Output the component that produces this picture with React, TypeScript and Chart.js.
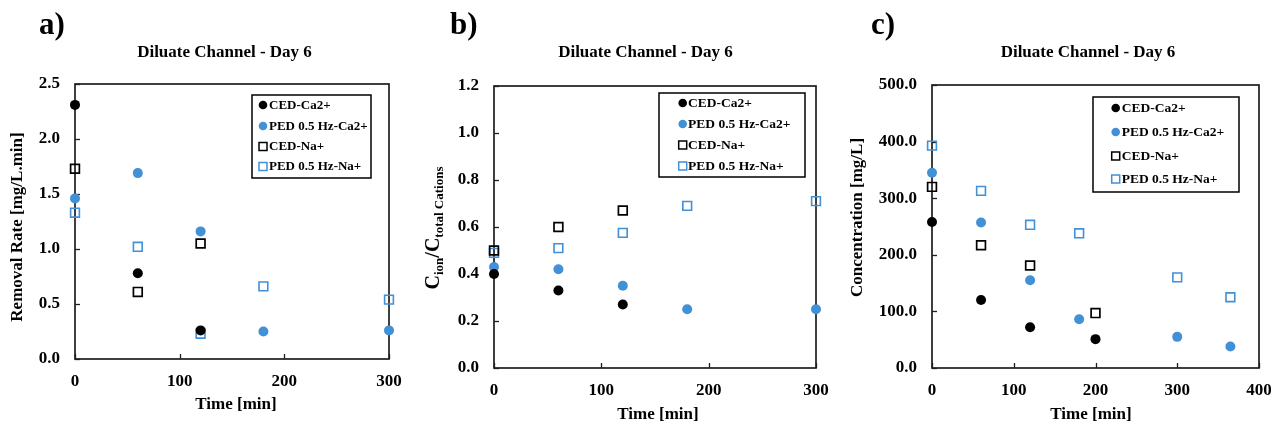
import React, { useEffect, useRef } from 'react';
import { Chart, registerables } from 'chart.js';

Chart.register(...registerables);

const FONT = '"Liberation Serif", "Times New Roman", serif';
const BLUE = '#4290d6';

// ---- Data: panel a) removal rate [mg/L.min]
const timeA = [0, 60, 120, 180, 300];
const removalCedCa = [2.31, 0.78, 0.26];
const removalPedCa = [1.46, 1.69, 1.16, 0.25, 0.26];
const removalCedNa = [1.73, 0.61, 1.05];
const removalPedNa = [1.33, 1.02, 0.23, 0.66, 0.54];

// ---- Data: panel b) C_ion / C_total cations
const timeB = [0, 60, 120, 180, 300];
const fracCedCa = [0.40, 0.33, 0.27];
const fracPedCa = [0.43, 0.42, 0.35, 0.25, 0.25];
const fracCedNa = [0.50, 0.60, 0.67];
const fracPedNa = [0.49, 0.51, 0.575, 0.69, 0.71];

// ---- Data: panel c) concentration [mg/L]
const timeCedC = [0, 60, 120, 200];
const timePedC = [0, 60, 120, 180, 300, 365];
const concCedCa = [258, 120, 72, 51];
const concPedCa = [345, 257, 155, 86, 55, 38];
const concCedNa = [320, 217, 181, 97];
const concPedNa = [393, 313, 253, 238, 160, 125];

const seriesLabels = ['CED-Ca2+', 'PED 0.5 Hz-Ca2+', 'CED-Na+', 'PED 0.5 Hz-Na+'];
const panelTitle = 'Diluate Channel - Day 6';
const xTitle = 'Time [min]';

const pts = (xs: number[], ys: number[]) => ys.map((y, i) => ({ x: xs[i], y }));

const seriesStyles = [
  { pointStyle: 'circle', pointRadius: 5, backgroundColor: '#000', borderColor: '#000', borderWidth: 0 },
  { pointStyle: 'circle', pointRadius: 5, backgroundColor: BLUE, borderColor: BLUE, borderWidth: 0 },
  { pointStyle: 'rect', pointRadius: 6.2, backgroundColor: 'rgba(255,255,255,0)', borderColor: '#000', borderWidth: 1.7 },
  { pointStyle: 'rect', pointRadius: 6.2, backgroundColor: 'rgba(255,255,255,0)', borderColor: BLUE, borderWidth: 1.6 },
];

type PanelCfg = {
  left: number;
  w: number;
  pad: { top: number; right: number };
  yWidth: number;
  xHeight: number;
  letter: string;
  letterX: number;
  titleX: number;
  yTitle: string | null;
  yTitleX: number;
  yTitleY: number;
  xTitleX: number;
  xTitleY: number;
  legend: { x: number; y: number; w: number; h: number; mx: number; tx: number; rows: number[]; font: number };
  xMax: number;
  yMax: number;
  yStep: number;
  series: { x: number; y: number }[][];
};

const panels: PanelCfg[] = [
  {
    left: 0, w: 420, pad: { top: 84, right: 31 }, yWidth: 75, xHeight: 66,
    letter: 'a)', letterX: 39, titleX: 224.5,
    yTitle: 'Removal Rate [mg/L.min]', yTitleX: 18, yTitleY: 227, xTitleX: 236, xTitleY: 405,
    legend: { x: 252, y: 95, w: 119, h: 83, mx: 263, tx: 269, rows: [105, 126, 146.5, 166.5], font: 13 },
    xMax: 300, yMax: 2.5, yStep: 0.5,
    series: [pts(timeA, removalCedCa), pts(timeA, removalPedCa), pts(timeA, removalCedNa), pts(timeA, removalPedNa)],
  },
  {
    left: 420, w: 430, pad: { top: 86, right: 34 }, yWidth: 74, xHeight: 57,
    letter: 'b)', letterX: 30, titleX: 225.5,
    yTitle: null, yTitleX: 19, yTitleY: 228, xTitleX: 238, xTitleY: 415,
    legend: { x: 239, y: 93, w: 146, h: 84, mx: 262.7, tx: 268, rows: [103, 124, 145, 166], font: 13.5 },
    xMax: 300, yMax: 1.2, yStep: 0.2,
    series: [pts(timeB, fracCedCa), pts(timeB, fracPedCa), pts(timeB, fracCedNa), pts(timeB, fracPedNa)],
  },
  {
    left: 840, w: 431, pad: { top: 85, right: 12 }, yWidth: 92, xHeight: 57,
    letter: 'c)', letterX: 31, titleX: 248,
    yTitle: 'Concentration [mg/L]', yTitleX: 18, yTitleY: 217.5, xTitleX: 251, xTitleY: 415,
    legend: { x: 253, y: 97, w: 146, h: 95, mx: 275.7, tx: 281.7, rows: [108, 132, 156, 179], font: 13.5 },
    xMax: 400, yMax: 500, yStep: 100,
    series: [pts(timeCedC, concCedCa), pts(timePedC, concPedCa), pts(timeCedC, concCedNa), pts(timePedC, concPedNa)],
  },
];

function drawRichYTitle(ctx: CanvasRenderingContext2D, x: number, cy: number) {
  const parts = [
    { t: 'C', size: 20, dy: 0 },
    { t: 'ion', size: 13, dy: 4 },
    { t: '/C', size: 20, dy: 0 },
    { t: 'total Cations', size: 13, dy: 4 },
  ];
  ctx.save();
  ctx.translate(x, cy);
  ctx.rotate(-Math.PI / 2);
  ctx.textBaseline = 'alphabetic';
  ctx.textAlign = 'left';
  ctx.fillStyle = '#000';
  let total = 0;
  const widths = parts.map((p) => {
    ctx.font = `bold ${p.size}px ${FONT}`;
    const w = ctx.measureText(p.t).width;
    total += w;
    return w;
  });
  let pos = -total / 2;
  parts.forEach((p, i) => {
    ctx.font = `bold ${p.size}px ${FONT}`;
    ctx.fillText(p.t, pos, p.dy);
    pos += widths[i];
  });
  ctx.restore();
}

function makeDecor(cfg: PanelCfg) {
  return {
    id: 'decor',
    beforeDatasetsDraw(chart: any) {
      const { ctx, chartArea } = chart;
      const { left, right, top, bottom } = chartArea;
      ctx.save();
      ctx.strokeStyle = '#1e1e1e';
      ctx.lineWidth = 1.7;
      ctx.strokeRect(left, top, right - left, bottom - top);
      ctx.lineWidth = 1.3;
      const ys = chart.scales.y;
      ys.ticks.forEach((t: any) => {
        const py = Math.round(ys.getPixelForValue(t.value)) + 0.5;
        ctx.beginPath();
        ctx.moveTo(left, py);
        ctx.lineTo(left + 5, py);
        ctx.stroke();
      });
      const xs = chart.scales.x;
      xs.ticks.forEach((t: any) => {
        const px = Math.round(xs.getPixelForValue(t.value)) + 0.5;
        ctx.beginPath();
        ctx.moveTo(px, bottom);
        ctx.lineTo(px, bottom - 5);
        ctx.stroke();
      });
      ctx.restore();
    },
    afterDraw(chart: any) {
      const { ctx } = chart;
      ctx.save();
      ctx.fillStyle = '#000';
      // panel letter
      ctx.font = `bold 31px ${FONT}`;
      ctx.textAlign = 'left';
      ctx.textBaseline = 'alphabetic';
      ctx.fillText(cfg.letter, cfg.letterX, 34);
      // title
      ctx.font = `bold 17px ${FONT}`;
      ctx.textAlign = 'center';
      ctx.textBaseline = 'middle';
      ctx.fillText(panelTitle, cfg.titleX, 53);
      // x title
      ctx.fillText(xTitle, cfg.xTitleX, cfg.xTitleY);
      // y title
      if (cfg.yTitle) {
        ctx.save();
        ctx.translate(cfg.yTitleX, cfg.yTitleY);
        ctx.rotate(-Math.PI / 2);
        ctx.fillText(cfg.yTitle, 0, 0);
        ctx.restore();
      } else {
        drawRichYTitle(ctx, cfg.yTitleX, cfg.yTitleY);
      }
      // legend
      const L = cfg.legend;
      ctx.fillStyle = '#fff';
      ctx.fillRect(L.x, L.y, L.w, L.h);
      ctx.strokeStyle = '#000';
      ctx.lineWidth = 1.5;
      ctx.strokeRect(L.x, L.y, L.w, L.h);
      chart.data.datasets.forEach((ds: any, i: number) => {
        const ry = L.rows[i];
        if (ds.pointStyle === 'circle') {
          ctx.fillStyle = ds.backgroundColor;
          ctx.beginPath();
          ctx.arc(L.mx, ry, 4.3, 0, Math.PI * 2);
          ctx.fill();
        } else {
          ctx.strokeStyle = ds.borderColor;
          ctx.lineWidth = 1.5;
          ctx.strokeRect(L.mx - 4, ry - 4, 8, 8);
        }
        ctx.fillStyle = '#000';
        ctx.font = `bold ${L.font}px ${FONT}`;
        ctx.textAlign = 'left';
        ctx.textBaseline = 'middle';
        ctx.fillText(ds.label, L.tx, ry + 0.5);
      });
      ctx.restore();
    },
  };
}

function Panel({ cfg }: { cfg: PanelCfg }) {
  const ref = useRef<HTMLCanvasElement>(null);
  useEffect(() => {
    const tickFont = { family: FONT, size: 17, weight: 'bold' as const };
    const chart = new Chart(ref.current!, {
      type: 'scatter',
      data: {
        datasets: cfg.series.map((data, i) => ({
          label: seriesLabels[i],
          data,
          ...seriesStyles[i],
          pointHoverRadius: seriesStyles[i].pointRadius,
          clip: false as any,
        })) as any,
      },
      options: {
        responsive: false,
        animation: false,
        devicePixelRatio: 1,
        layout: { padding: { left: 0, top: cfg.pad.top, right: cfg.pad.right, bottom: 0 } },
        plugins: { legend: { display: false }, title: { display: false }, tooltip: { enabled: false } },
        scales: {
          x: {
            type: 'linear',
            min: 0,
            max: cfg.xMax,
            ticks: { stepSize: 100, font: tickFont, color: '#000', padding: 12, callback: (v: any) => String(v) },
            grid: { display: false, drawTicks: false },
            border: { display: false },
            afterFit: (s: any) => {
              s.height = cfg.xHeight;
              s.paddingRight = 10;
              s.paddingLeft = 10;
            },
          },
          y: {
            type: 'linear',
            min: 0,
            max: cfg.yMax,
            ticks: { stepSize: cfg.yStep, font: tickFont, color: '#000', padding: 15, callback: (v: any) => Number(v).toFixed(1) },
            grid: { display: false, drawTicks: false },
            border: { display: false },
            afterFit: (s: any) => { s.width = cfg.yWidth; },
          },
        },
      } as any,
      plugins: [makeDecor(cfg)],
    });
    return () => chart.destroy();
  }, [cfg]);
  return (
    <canvas
      ref={ref}
      width={cfg.w}
      height={425}
      style={{ position: 'absolute', left: cfg.left, top: 0, width: cfg.w, height: 425 }}
    />
  );
}

export default function App() {
  return (
    <div style={{ position: 'absolute', left: 0, top: 0, width: 1271, height: 425, overflow: 'hidden', background: '#fff' }}>
      {panels.map((p) => (
        <Panel key={p.letter} cfg={p} />
      ))}
    </div>
  );
}
